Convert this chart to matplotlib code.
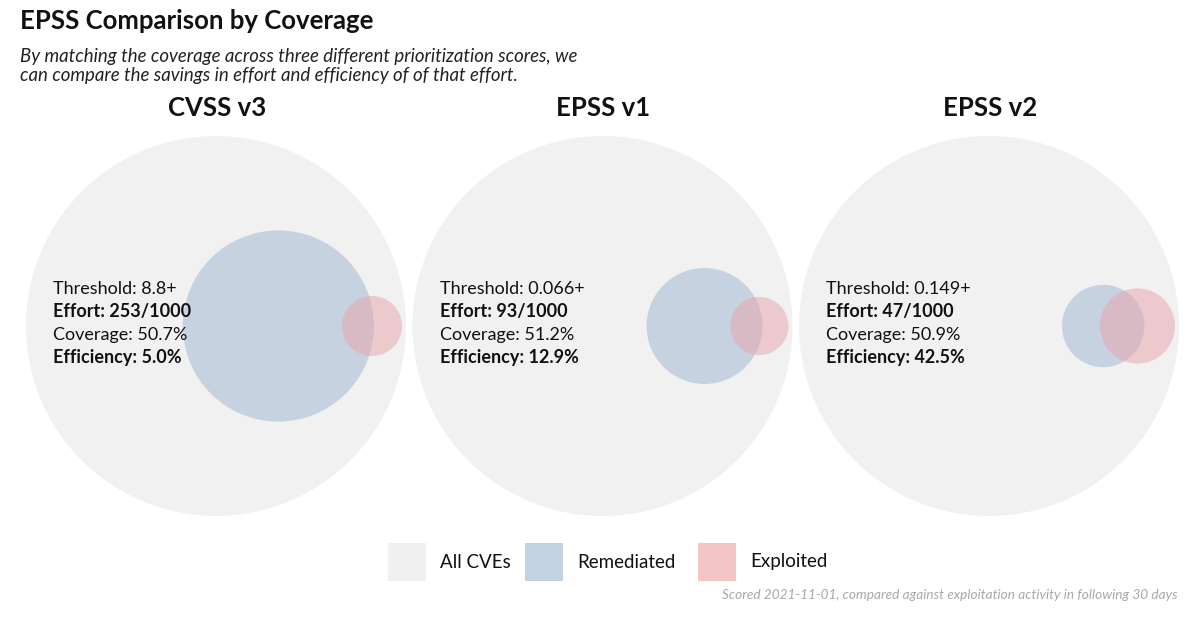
import numpy as np
import matplotlib
matplotlib.use("Agg")
import matplotlib.pyplot as plt
from matplotlib.patches import Circle, Rectangle

# ---- data ----
panels = ["CVSS v3", "EPSS v1", "EPSS v2"]
thresholds = ["8.8+", "0.066+", "0.149+"]
effort = [253, 93, 47]          # remediated per 1000 CVEs
total = 1000
coverage = [50.7, 51.2, 50.9]   # %
efficiency = [5.0, 12.9, 42.5]  # %
legend_labels = ["All CVEs", "Remediated", "Exploited"]

title = "EPSS Comparison by Coverage"
subtitle = ("By matching the coverage across three different prioritization scores, we\n"
            "can compare the savings in effort and efficiency of of that effort.")
caption = "Scored 2021-11-01, compared against exploitation activity in following 30 days"

# ---- style ----
FONT = "Lato"
plt.rcParams["font.family"] = [FONT, "DejaVu Sans"]
C_ALL = "#f1f1f1"
C_REM = "#c6d2e0"
C_EXP = "#e9a3aa"
LEG_ALL = "#f0f0f0"
LEG_REM = "#c4d1e0"
LEG_EXP = "#f4c5c7"
TXT = "#111111"

W, H = 1200, 617
fig = plt.figure(figsize=(W / 100, H / 100), dpi=100)
ax = fig.add_axes([0, 0, 1, 1])
ax.set_xlim(0, W)
ax.set_ylim(H, 0)
ax.set_aspect("equal")
ax.axis("off")


def overlap_area(r1, r2, d):
    if d >= r1 + r2:
        return 0.0
    if d <= abs(r1 - r2):
        return np.pi * min(r1, r2) ** 2
    a1 = r1 ** 2 * np.arccos((d ** 2 + r1 ** 2 - r2 ** 2) / (2 * d * r1))
    a2 = r2 ** 2 * np.arccos((d ** 2 + r2 ** 2 - r1 ** 2) / (2 * d * r2))
    a3 = 0.5 * np.sqrt((-d + r1 + r2) * (d + r1 - r2) * (d - r1 + r2) * (d + r1 + r2))
    return a1 + a2 - a3


def solve_distance(r1, r2, target):
    lo, hi = abs(r1 - r2), r1 + r2
    for _ in range(80):
        mid = 0.5 * (lo + hi)
        if overlap_area(r1, r2, mid) > target:
            lo = mid
        else:
            hi = mid
    return 0.5 * (lo + hi)


R = 190.0
cy = 326.0
x0, step = 216.0, 386.5
margin = 4.0

for i, name in enumerate(panels):
    cx = x0 + i * step
    rem = effort[i]
    hits = rem * efficiency[i] / 100.0
    exploited = hits / (coverage[i] / 100.0)
    r_rem = R * np.sqrt(rem / total)
    r_exp = R * np.sqrt(exploited / total)
    # overlap area proportional to covered exploited
    target = np.pi * R ** 2 * hits / total
    d = solve_distance(r_rem, r_exp, target)
    ex = cx + R - margin - r_exp
    bx = ex - d

    ax.add_patch(Circle((cx, cy), R, facecolor=C_ALL, edgecolor="none", zorder=1))
    ax.add_patch(Circle((bx, cy), r_rem, facecolor=C_REM, edgecolor="none", zorder=2))
    ax.add_patch(Circle((ex, cy), r_exp, facecolor=C_EXP, edgecolor="none", alpha=0.5, zorder=3))

    ax.text(cx + 1, 108, name, ha="center", va="center", fontsize=18.5, fontweight="bold", color=TXT, zorder=5)

    tx = cx - 163
    lines = [(f"Threshold: {thresholds[i]}", "normal"),
             (f"Effort: {rem}/{total}", "bold"),
             (f"Coverage: {coverage[i]:.1f}%", "normal"),
             (f"Efficiency: {efficiency[i]:.1f}%", "bold")]
    for k, (s, w) in enumerate(lines):
        ax.text(tx, 289 + k * 23, s, ha="left", va="center", fontsize=13, fontweight=w,
                color=TXT, zorder=6)

# titles
fig.text(20 / W, 1 - 21 / H, title, ha="left", va="center", fontsize=18.5, fontweight="bold", color=TXT)
fig.text(20 / W, 1 - 66 / H, subtitle, ha="left", va="center", fontsize=13.4, style="italic",
         color="#222222", linespacing=1.15)

# legend
sq = 38
leg_x = [388, 525, 698]
leg_c = [LEG_ALL, LEG_REM, LEG_EXP]
for lx, lc, lab in zip(leg_x, leg_c, legend_labels):
    ax.add_patch(Rectangle((lx, 543), sq, sq, facecolor=lc, edgecolor="none"))
    ax.text(lx + sq + 14, 562, lab, ha="left", va="center", fontsize=13.5, color=TXT)

fig.text(1178 / W, 1 - 595 / H, caption, ha="right", va="center", fontsize=9.8, style="italic",
         color="#a8a8a8")

fig.savefig("out.png", dpi=100, facecolor="white")
